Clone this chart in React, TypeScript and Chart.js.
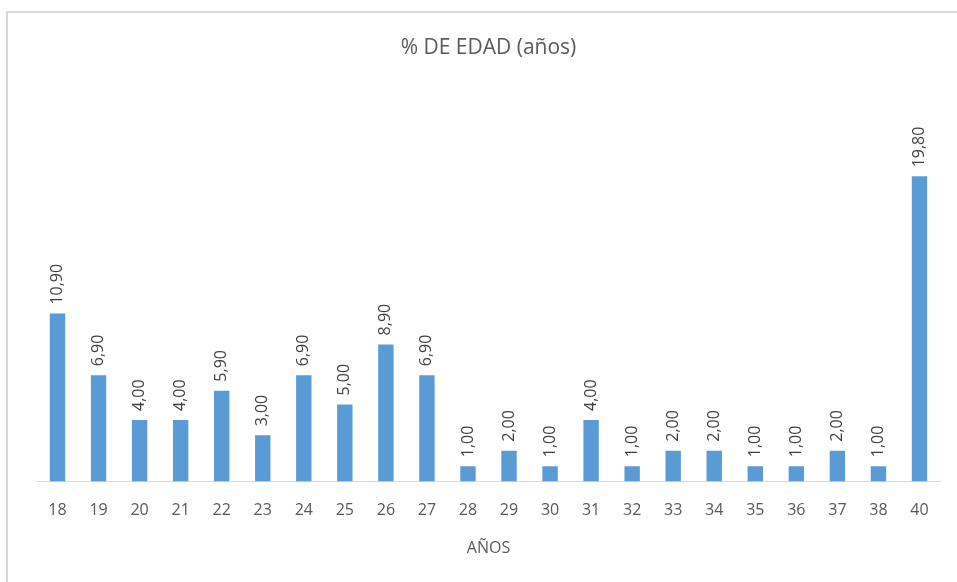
import React, { useEffect, useRef } from "react";
import { Chart, registerables } from "chart.js";

Chart.register(...registerables);

const categories = ["18", "19", "20", "21", "22", "23", "24", "25", "26", "27", "28", "29", "30", "31", "32", "33", "34", "35", "36", "37", "38", "40"];
const values = [10.9, 6.9, 4.0, 4.0, 5.9, 3.0, 6.9, 5.0, 8.9, 6.9, 1.0, 2.0, 1.0, 4.0, 1.0, 2.0, 2.0, 1.0, 1.0, 2.0, 1.0, 19.8];
const chartTitle = "% DE EDAD (años)";
const xTitle = "AÑOS";

const FONT = "'Open Sans', 'Noto Sans', sans-serif";

const labelPlugin = {
  id: "barLabels",
  afterDatasetsDraw(chart: any) {
    const ctx = chart.ctx;
    const meta = chart.getDatasetMeta(0);
    ctx.save();
    ctx.fillStyle = "#404040";
    ctx.font = `16px ${FONT}`;
    ctx.textAlign = "left";
    ctx.textBaseline = "middle";
    meta.data.forEach((el: any, i: number) => {
      const txt = values[i].toFixed(2).replace(".", ",");
      ctx.save();
      ctx.translate(el.x, el.y - 9);
      ctx.rotate(-Math.PI / 2);
      ctx.fillText(txt, 0, 0);
      ctx.restore();
    });
    ctx.restore();
  },
};

export default function App() {
  const ref = useRef<HTMLCanvasElement>(null);
  useEffect(() => {
    if (!ref.current) return;
    const chart = new Chart(ref.current, {
      type: "bar",
      data: {
        labels: categories,
        datasets: [
          {
            data: values,
            backgroundColor: "#5b9bd5",
            borderWidth: 0,
            barPercentage: 0.75,
            categoryPercentage: 0.5,
          },
        ],
      },
      options: {
        animation: false,
        responsive: false,
        maintainAspectRatio: false,
        layout: { padding: { left: 37, right: 17, top: 20, bottom: 24 } },
        plugins: {
          legend: { display: false },
          tooltip: { enabled: false },
          title: {
            display: true,
            text: chartTitle,
            color: "#595959",
            font: { family: FONT, size: 21, weight: "normal" },
            padding: { top: 15, bottom: 36 },
          },
        },
        scales: {
          x: {
            grid: { display: false, drawTicks: false, tickLength: 0 },
            border: { display: true, color: "#d9d9d9", width: 1 },
            ticks: { color: "#595959", font: { family: FONT, size: 16 }, padding: 19, maxRotation: 0, autoSkip: false },
            title: {
              display: true,
              text: xTitle,
              color: "#595959",
              font: { family: FONT, size: 16 },
              padding: { top: 0, bottom: 0 },
            },
          },
          y: {
            display: false,
            min: 0,
            max: 25,
          },
        },
      },
      plugins: [labelPlugin],
    });
    return () => chart.destroy();
  }, []);
  return (
    <div style={{ position: "fixed", left: 0, top: 0, width: 957, height: 582, overflow: "hidden", background: "#fff" }}>
      <div
        style={{
          position: "absolute",
          left: 6,
          top: 11,
          width: 1000,
          height: 600,
          borderLeft: "2px solid #d9d9d9",
          borderTop: "2px solid #d9d9d9",
        }}
      />
      <canvas ref={ref} width={957} height={582} style={{ position: "absolute", left: 0, top: 0 }} />
    </div>
  );
}
